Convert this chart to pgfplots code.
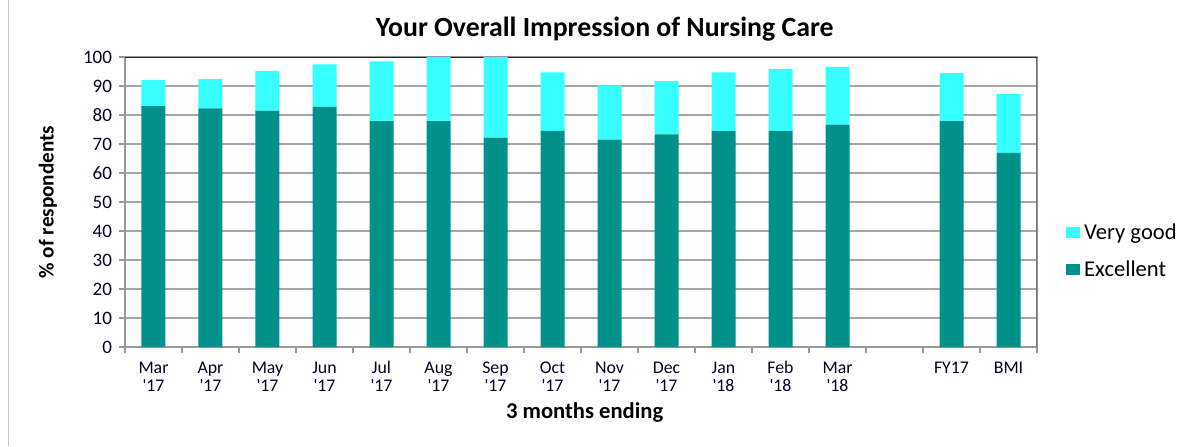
\documentclass[border=0pt]{standalone}
\usepackage{pgfplots}
\pgfplotsset{compat=1.18}
\usepackage{fontspec}
\setmainfont{Carlito}
\definecolor{exc}{RGB}{0,145,138}
\definecolor{vgood}{RGB}{55,255,255}
\newcommand{\tl}[2]{\strut #1\\\strut\textquotesingle #2}
\begin{document}
\begin{tikzpicture}
\useasboundingbox (-62.5pt,-49.5pt) rectangle (539pt,173.5pt);
\draw[gray!45] (-58.5pt,-49.5pt) -- (-58.5pt,173.5pt);
\begin{axis}[at={(0,0)},anchor=south west,scale only axis,width=456pt,height=145pt,
  ybar stacked,bar width=12pt,ymin=0,ymax=100,xmin=-0.5,xmax=15.5,
  ytick={0,10,...,100},ymajorgrids,grid style={gray!70,line width=0.6pt},
  xtick={0,1,2,3,4,5,6,7,8,9,10,11,12,14,15},
  xticklabels={\tl{Mar}{17},\tl{Apr}{17},\tl{May}{17},\tl{Jun}{17},\tl{Jul}{17},\tl{Aug}{17},
    \tl{Sep}{17},\tl{Oct}{17},\tl{Nov}{17},\tl{Dec}{17},\tl{Jan}{18},\tl{Feb}{18},\tl{Mar}{18},
    \strut FY17,\strut BMI},
  minor xtick={-0.5,0.5,...,15.5},
  major x tick style={draw=none},
  tick align=outside,xtick pos=bottom,ytick pos=left,
  major tick length=3pt,minor tick length=3pt,
  tick style={gray!80,line width=0.6pt},
  axis line style={gray!80,line width=0.6pt},
  xticklabel style={align=center,font=\fontsize{8.9}{9.2}\selectfont,text=black!85!blue,inner sep=1pt,yshift=-2.5pt},
  yticklabel style={font=\fontsize{9.5}{10}\selectfont,text=black!85!blue},
  /pgf/number format/assume math mode=true,
  title={Your Overall Impression of Nursing Care},
  title style={font=\fontsize{13.9}{15}\selectfont\bfseries,at={(axis description cs:0.526,1.028)},anchor=base},
  ylabel={\% of respondents},
  ylabel style={font=\fontsize{10.6}{12}\selectfont\bfseries,at={(axis description cs:-0.0845,0.5)},anchor=center},
  xlabel={3 months ending},
  xlabel style={font=\fontsize{11.3}{12}\selectfont\bfseries,at={(axis description cs:0.504,-0.248)},anchor=base},
  reverse legend,
  legend image code/.code={\fill[#1] (0pt,-2.5pt) rectangle (7pt,3pt);},
  legend style={draw=none,font=\fontsize{11.3}{12}\selectfont,at={(axis description cs:1.025,0.329)},anchor=west,
    row sep=5pt,cells={anchor=west}},
]
\addplot[fill=exc,draw=none] coordinates {(0,83.1) (1,82.3) (2,81.5) (3,82.8) (4,77.9) (5,77.9) (6,72.2) (7,74.5) (8,71.5) (9,73.3) (10,74.5) (11,74.5) (12,76.7) (14,77.9) (15,66.9)};
\addlegendentry{Excellent}
\addplot[fill=vgood,draw=none] coordinates {(0,9.0) (1,10.1) (2,13.7) (3,14.7) (4,20.6) (5,22.1) (6,27.8) (7,20.2) (8,18.7) (9,18.4) (10,20.2) (11,21.4) (12,19.9) (14,16.5) (15,20.3)};
\addlegendentry{Very good}
\draw[black!85,line width=0.7pt] (rel axis cs:0,1) -- (rel axis cs:1,1);
\draw[gray!90!black,line width=0.7pt] (rel axis cs:1,0) -- (rel axis cs:1,1);
\end{axis}
\end{tikzpicture}
\end{document}
